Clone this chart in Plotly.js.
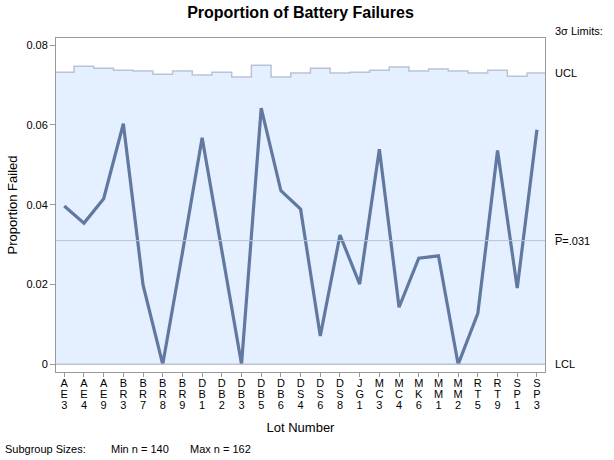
<!DOCTYPE html>
<html>
<head>
<meta charset="utf-8">
<script src="https://cdn.plot.ly/plotly-3.0.1.min.js"></script>
<style>
  body { margin: 0; background: #fff; }
  #chart { width: 614px; height: 460px; }
</style>
</head>
<body>
<div id="chart"></div>
<script>
// lot numbers on the x axis
let lots = ['AE3', 'AE4', 'AE9', 'BR3', 'BR7', 'BR8', 'BR9', 'DB1', 'DB2', 'DB3',
            'DB5', 'DB6', 'DS4', 'DS6', 'DS8', 'JG1', 'MC3', 'MC4', 'MK6', 'MM1',
            'MM2', 'RT5', 'RT9', 'SP1', 'SP3'];

// proportion failed in each lot
let propFailed = [0.0397, 0.0354, 0.0415, 0.0603, 0.0199, 0, 0.0280, 0.0568, 0.0285, 0,
                  0.0642, 0.0435, 0.0389, 0.0071, 0.0324, 0.0201, 0.0539, 0.0143, 0.0266, 0.0272,
                  0, 0.0128, 0.0536, 0.0191, 0.0588];

// upper control limit for each lot (depends on subgroup size)
let ucl = [0.0732, 0.0747, 0.0742, 0.0737, 0.0735, 0.0727, 0.0735, 0.0725, 0.0732, 0.0720,
           0.0750, 0.0720, 0.0730, 0.0742, 0.0730, 0.0732, 0.0737, 0.0745, 0.0735, 0.0740,
           0.0735, 0.0730, 0.0737, 0.0722, 0.0730];

let pBar = 0.031;
let lcl = 0;
let minN = 140;
let maxN = 162;

// positions of the lots and the stacked tick labels
// (small tick font keeps the rows tight, the span sets the letter size)
let idx = lots.map((d, i) => i);
let tickText = lots.map(d => d.split('').map(c => '<span style="font-size:11px">' + c + '</span>').join('<br>'));

// step edges for the limits band
let stepX = lots.map((d, i) => i - 0.5).concat([lots.length - 0.5]);
let stepY = ucl.concat([ucl[ucl.length - 1]]);

let band = {
    x: stepX,
    y: stepY,
    type: 'scatter',
    mode: 'lines',
    line: {shape: 'hv', color: '#b9c3d6', width: 1.5},
    fill: 'tozeroy',
    fillcolor: '#e4f0ff',
    hoverinfo: 'skip'
};

let trace1 = {
    x: idx,
    y: propFailed,
    type: 'scatter',
    mode: 'lines',
    line: {color: '#6178a1', width: 3.2},
    name: 'Proportion Failed'
};

let data = [band, trace1];

let fam = 'Liberation Sans, Arial, sans-serif';
let font = {family: fam, size: 11, color: '#000'};
let titleFont = {family: fam, size: 13, color: '#000'};

let layout = {
    width: 614,
    height: 460,
    margin: {l: 56, r: 69, t: 38, b: 88},
    showlegend: false,
    paper_bgcolor: '#fff',
    plot_bgcolor: '#fff',
    font: font,
    title: {
        text: '<b>Proportion of Battery Failures</b>',
        font: {family: fam, size: 16, color: '#000'},
        x: 0.5, xref: 'paper', y: 0.974, yanchor: 'middle'
    },
    xaxis: {
        range: [-0.42, 24.41],
        tickvals: idx,
        ticktext: tickText,
        ticks: 'outside',
        ticklen: 4,
        tickcolor: '#999',
        showgrid: false,
        zeroline: false,
        showline: true,
        mirror: true,
        linecolor: '#999',
        linewidth: 1,
        tickangle: 0,
        tickfont: {family: fam, size: 8.5, color: '#000'},
        title: {text: 'Lot Number', font: titleFont, standoff: 12}
    },
    yaxis: {
        range: [-0.00193, 0.0818],
        dtick: 0.02,
        tick0: 0,
        ticks: 'outside',
        ticklen: 5,
        tickcolor: '#999',
        showgrid: false,
        zeroline: false,
        showline: true,
        mirror: true,
        linecolor: '#999',
        linewidth: 1,
        tickfont: font,
        title: {text: 'Proportion Failed', font: titleFont, standoff: 5}
    },
    shapes: [
        {type: 'line', xref: 'paper', x0: 0, x1: 1, yref: 'y', y0: pBar, y1: pBar,
         line: {color: '#b9c3d6', width: 1}},
        {type: 'line', xref: 'paper', x0: 0, x1: 1, yref: 'y', y0: lcl, y1: lcl,
         line: {color: '#b9c3d6', width: 1.5}}
    ],
    annotations: [
        {text: '3\u03c3 Limits:', xref: 'paper', x: 1, xshift: 8, xanchor: 'left',
         yref: 'paper', y: 1, yshift: 7, yanchor: 'middle', showarrow: false, font: font},
        {text: 'UCL', xref: 'paper', x: 1, xshift: 8, xanchor: 'left',
         yref: 'y', y: ucl[ucl.length - 1], yanchor: 'middle', showarrow: false, font: font},
        {text: '<span style="text-decoration:overline">P</span>=.031', xref: 'paper', x: 1, xshift: 8, xanchor: 'left',
         yref: 'y', y: pBar, yanchor: 'middle', showarrow: false, font: font},
        {text: 'LCL', xref: 'paper', x: 1, xshift: 8, xanchor: 'left',
         yref: 'y', y: lcl, yanchor: 'middle', showarrow: false, font: font},
        {text: 'Subgroup Sizes:', xref: 'paper', x: 0, xshift: -53, xanchor: 'left',
         yref: 'paper', y: 0, yshift: -77, yanchor: 'middle', showarrow: false, font: font},
        {text: 'Min n = ' + minN, xref: 'paper', x: 0, xshift: 53, xanchor: 'left',
         yref: 'paper', y: 0, yshift: -77, yanchor: 'middle', showarrow: false, font: font},
        {text: 'Max n = ' + maxN, xref: 'paper', x: 0, xshift: 132, xanchor: 'left',
         yref: 'paper', y: 0, yshift: -77, yanchor: 'middle', showarrow: false, font: font}
    ]
};

Plotly.newPlot('chart', data, layout, {displayModeBar: false, staticPlot: true});
</script>
</body>
</html>
